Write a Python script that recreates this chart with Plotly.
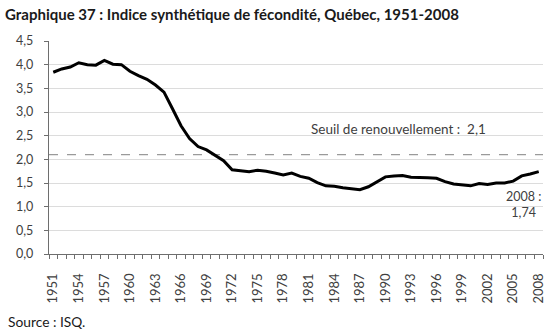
import plotly.graph_objects as go

# Indice synthétique de fécondité, Québec
years = list(range(1951, 2009))
isf = [3.84, 3.91, 3.95, 4.04, 4.00, 3.99, 4.09, 4.01, 4.00, 3.86,
       3.77, 3.69, 3.57, 3.42, 3.07, 2.71, 2.44, 2.27, 2.20, 2.09,
       1.97, 1.78, 1.76, 1.74, 1.77, 1.75, 1.71, 1.67, 1.71, 1.64,
       1.60, 1.51, 1.44, 1.43, 1.40, 1.38, 1.36, 1.42, 1.52, 1.63,
       1.65, 1.66, 1.62, 1.62, 1.61, 1.60, 1.53, 1.48, 1.46, 1.44,
       1.49, 1.47, 1.50, 1.50, 1.54, 1.65, 1.69, 1.74]
seuil = 2.1
tick_years = list(range(1951, 2009, 3))
y_ticks = [0, 0.5, 1.0, 1.5, 2.0, 2.5, 3.0, 3.5, 4.0, 4.5]

FONT = "Lato"
TXT = "#404040"

fig = go.Figure()

# Seuil de renouvellement des générations
fig.add_trace(go.Scatter(
    x=[years[0] - 0.5, years[-1] + 0.5], y=[seuil, seuil],
    mode="lines", line=dict(color="#9a9a9a", width=1.3, dash="dash"),
    hoverinfo="skip", showlegend=False))

fig.add_trace(go.Scatter(
    x=years, y=isf, mode="lines",
    line=dict(color="black", width=3), showlegend=False))

fig.add_annotation(x=1991.5, y=seuil, yshift=26, text="Seuil de renouvellement :  2,1",
                   showarrow=False, xanchor="center",
                   font=dict(family=FONT, size=13.5, color=TXT))
fig.add_annotation(x=years[-1] - 1.8, y=isf[-1], yshift=-33,
                   text="2008 :<br>" + f"{isf[-1]:.2f}".replace(".", ","),
                   showarrow=False, align="center", xanchor="center",
                   font=dict(family=FONT, size=12.5, color=TXT))

fig.update_layout(
    width=558, height=335,
    margin=dict(l=49, r=12, t=41, b=81),
    paper_bgcolor="white", plot_bgcolor="white",
    separators=", ",
    title=dict(text="<b>Graphique 37 : Indice synthétique de fécondité, Québec, 1951-2008</b>",
               x=0.009, xanchor="left", y=0.955, yanchor="middle",
               font=dict(family=FONT, size=15, color="#1a1a1a")),
    font=dict(family=FONT, size=12, color=TXT),
)

fig.update_xaxes(
    range=[years[0] - 0.5, years[-1] + 0.5],
    tickmode="array", tickvals=tick_years, ticktext=[str(y) for y in tick_years],
    tickangle=-90, ticks="", showgrid=False, ticklabelstandoff=13,
    showline=True, linecolor="#6e6e6e", linewidth=1.3,
    tickfont=dict(family=FONT, size=13, color=TXT),
    minor=dict(ticks="outside", tick0=years[0] - 0.5, dtick=1,
               ticklen=4, tickcolor="#6e6e6e", tickwidth=1, showgrid=False),
    fixedrange=True,
)

fig.update_yaxes(
    range=[0, 4.5], tickmode="array", tickvals=y_ticks,
    tickformat=".1f", ticks="outside", ticklen=4, tickcolor="#6e6e6e",
    ticklabelstandoff=8,
    showgrid=True, gridcolor="#dcdcdc", gridwidth=1,
    showline=True, linecolor="#6e6e6e", linewidth=1.3,
    zeroline=False,
    tickfont=dict(family=FONT, size=12.5, color=TXT),
    fixedrange=True,
)

fig.add_annotation(xref="paper", yref="paper", x=-43/497, y=-67/213,
                   xanchor="left", yanchor="middle", showarrow=False,
                   text="Source : ISQ.", font=dict(family=FONT, size=13.8, color="#1a1a1a"))

fig.write_html("out.html")
